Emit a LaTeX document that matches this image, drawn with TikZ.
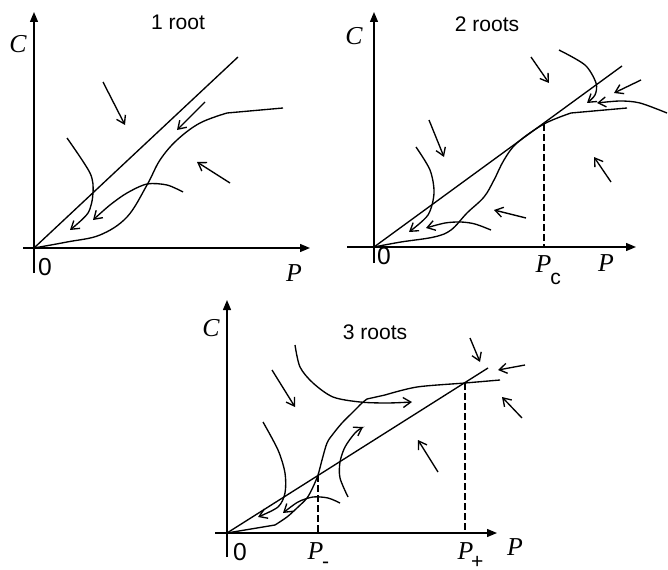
\documentclass[tikz,border=0pt]{standalone}
\usepackage{fontspec}
\setmainfont{Liberation Serif}
\setsansfont{Liberation Sans}
\usetikzlibrary{arrows.meta}

\begin{document}
\begin{tikzpicture}[x=0.3mm,y=-0.3mm,line width=1.15pt,
  axis/.style={-{Triangle[length=3mm,width=2.4mm]}},
  flow/.style={-{Straight Barb[length=2.3mm,width=3mm]}},
  guide/.style={dash pattern=on 2mm off 1mm},
  var/.style={font=\fontsize{22}{24}\selectfont\itshape},
  roots/.style={font=\sffamily\fontsize{18}{20}\selectfont},
  num/.style={font=\sffamily\fontsize{21}{23}\selectfont},
  sub/.style={font=\sffamily\fontsize{18}{20}\selectfont\upshape}]
\useasboundingbox (0,0) rectangle (668,570);

% 1 root
\draw[axis] (23,248) -- (310,248);
\draw[axis] (34,273) -- (34,12);
\node[var] (c1) at (18,44) {C};
\node[var] (p1) at (294,273) {P};
\node[num] (o1) at (45,267) {0};
\node[roots] (t1) at (178,22) {1 root};
\draw (34,248) -- (238,57);
\draw plot[smooth,tension=0.6] coordinates {(34,248) (67,242) (100,235) (127,217) (147,185) (160,160) (177,140) (200,123) (227,113)} -- (283,108);
\draw[flow] (103,82) -- (125,125);
\draw[flow] (205,102) -- (177,130);
\draw[flow] (230,183) -- (197,162);
\draw[flow] plot[smooth] coordinates {(67,138) (90,173) (93,193) (88,213) (70,230)};
\draw[flow] plot[smooth] coordinates {(183,192) (167,185) (147,184) (127,193) (110,205) (93,220)};

% 2 roots
\draw[axis] (347,247) -- (636,247);
\draw[axis] (374,263) -- (374,12);
\node[var] (c2) at (354,36) {C};
\node[var] (p2) at (606,263) {P};
\node[var,anchor=base west,inner sep=0pt] (pc) at (535,272)
  {P\kern-1pt\raisebox{-0.5em}{\sffamily\upshape\fontsize{18}{20}\selectfont c}};
\node[num] (o2) at (384,256) {0};
\node[roots] (t2) at (487,24) {2 roots};
\draw (374,247) -- (622,66);
\draw plot[smooth,tension=0.6] coordinates {(374,247) (401,242) (434,237) (451,230) (467,213) (484,197) (494,180) (504,160) (517,143) (544,124) (571,113)} -- (627,108);
\draw[guide] (544,124) -- (544,247);
\draw[flow] (531,57) -- (549,83);
\draw[flow] (641,80) -- (614,93);
\draw[flow] (429,120) -- (444,157);
\draw[flow] (611,182) -- (594,157);
\draw[flow] (526,218) -- (494,210);
\draw[flow] plot[smooth] coordinates {(667,113) (640,103) (620,101) (597,103)};
\draw[flow] plot[smooth] coordinates {(559,50) (585,65) (596,83) (595,95) (587,103)};
\draw[flow] plot[smooth] coordinates {(416,147) (430,170) (434,193) (428,215) (409,232)};
\draw[flow] plot[smooth] coordinates {(491,230) (475,224) (461,222) (445,223) (426,228)};

% 3 roots
\draw[axis] (215,533) -- (497,533);
\draw[axis] (227,557) -- (227,300);
\node[var] (c3) at (211,328) {C};
\node[var] (p3) at (515,547) {P};
\node[var,anchor=base west,inner sep=0pt] (pm) at (307,559)
  {P\kern-1pt\raisebox{-0.35em}{\sffamily\upshape\fontsize{18}{20}\selectfont -}};
\node[var,anchor=base west,inner sep=0pt] (pp) at (457,559)
  {P\kern-2pt\raisebox{-0.35em}{\sffamily\upshape\fontsize{18}{20}\selectfont +}};
\node[num] (o3) at (240,552) {0};
\node[roots] (t3) at (375,332) {3 roots};
\draw (227,533) -- (488,368);
\draw (227,533) -- (275,525) plot[smooth,tension=0.5] coordinates {(275,525) (287,517) (297,508) (307,498) (313,487) (318,475) (322,460) (327,443) (333,434) (342,423) (353,412) (362,403) (367,399)} -- (385,395) plot[smooth] coordinates {(385,395) (417,387) (465,383) (500,380)};
\draw[guide] (318,475) -- (318,533);
\draw[guide] (465,383) -- (465,533);
\draw[flow] plot[smooth] coordinates {(295,345) (300,367) (313,383) (333,397) (360,402) (387,403) (412,402)};
\draw[flow] (272,370) -- (295,407);
\draw[flow] (470,338) -- (480,362);
\draw[flow] (525,365) -- (498,370);
\draw[flow] (522,418) -- (502,397);
\draw[flow] (438,472) -- (418,440);
\draw[flow] plot[smooth] coordinates {(263,422) (278,450) (285,473) (285,493) (278,507) (258,517)};
\draw[flow] plot[smooth] coordinates {(340,503) (328,498) (313,497) (298,502) (283,513)};
\draw[flow] plot[smooth] coordinates {(348,497) (340,478) (340,462) (345,447) (355,433) (363,427)};
\end{tikzpicture}
\end{document}
